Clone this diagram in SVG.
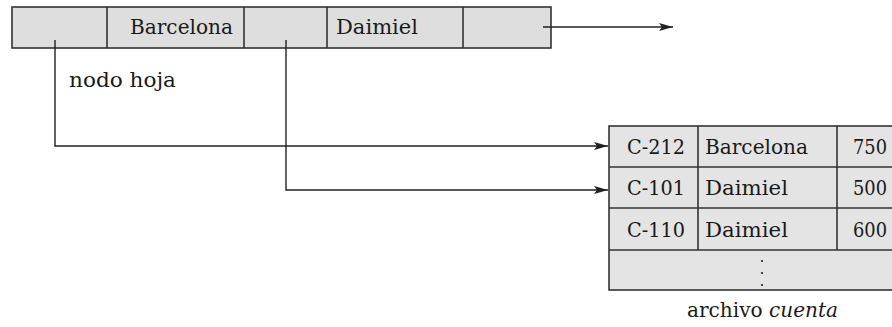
<svg xmlns="http://www.w3.org/2000/svg" width="892" height="327" viewBox="0 0 892 327">
<style>
.cell{fill:#dedede;stroke:#333;stroke-width:1.6}
.tcell{fill:#e4e4e4;stroke:#333;stroke-width:1.6}
.div{stroke:#333;stroke-width:1.6}
.t{font-family:"DejaVu Serif","Liberation Serif",serif;font-size:19.5px;fill:#1a1a1a}
.conn{fill:none;stroke:#222;stroke-width:1.4}
</style>
<defs>
<marker id="ah" markerWidth="14" markerHeight="8" refX="14" refY="4" orient="auto" markerUnits="userSpaceOnUse">
<path d="M0,0 L14,4 L0,8 L3,4 z" fill="#222"/>
</marker>
</defs>
<g id="leaf-node">
<rect class="cell" x="12" y="7" width="539" height="41"/>
<line class="div" x1="107" y1="7" x2="107" y2="48"/>
<line class="div" x1="244" y1="7" x2="244" y2="48"/>
<line class="div" x1="327" y1="7" x2="327" y2="48"/>
<line class="div" x1="463" y1="7" x2="463" y2="48"/>
<text class="t" x="130" y="34" textLength="103" lengthAdjust="spacingAndGlyphs">Barcelona</text>
<text class="t" x="336" y="34" textLength="82" lengthAdjust="spacingAndGlyphs">Daimiel</text>
</g>
<g id="label-nodo-hoja">
<text class="t" x="69" y="87" textLength="107" lengthAdjust="spacingAndGlyphs">nodo hoja</text>
</g>
<g id="file-cuenta">
<rect class="tcell" x="609" y="126" width="290" height="164"/>
<line class="div" x1="609" y1="167" x2="892" y2="167"/>
<line class="div" x1="609" y1="208" x2="892" y2="208"/>
<line class="div" x1="609" y1="250" x2="892" y2="250"/>
<line class="div" x1="698" y1="126" x2="698" y2="250"/>
<line class="div" x1="837" y1="126" x2="837" y2="250"/>
<text class="t" x="627" y="154" textLength="58" lengthAdjust="spacingAndGlyphs">C-212</text>
<text class="t" x="705" y="154" textLength="103" lengthAdjust="spacingAndGlyphs">Barcelona</text>
<text class="t" x="853" y="154" textLength="34" lengthAdjust="spacingAndGlyphs">750</text>
<text class="t" x="627" y="195" textLength="58" lengthAdjust="spacingAndGlyphs">C-101</text>
<text class="t" x="705" y="195" textLength="83" lengthAdjust="spacingAndGlyphs">Daimiel</text>
<text class="t" x="853" y="195" textLength="34" lengthAdjust="spacingAndGlyphs">500</text>
<text class="t" x="627" y="237" textLength="58" lengthAdjust="spacingAndGlyphs">C-110</text>
<text class="t" x="705" y="237" textLength="83" lengthAdjust="spacingAndGlyphs">Daimiel</text>
<text class="t" x="853" y="237" textLength="34" lengthAdjust="spacingAndGlyphs">600</text>
<circle cx="762" cy="261" r="1.1" fill="#222"/>
<circle cx="762" cy="273" r="1.1" fill="#222"/>
<circle cx="762" cy="285" r="1.1" fill="#222"/>
<text class="t" x="687" y="317" textLength="151" lengthAdjust="spacingAndGlyphs">archivo <tspan font-style="italic">cuenta</tspan></text>
</g>
<g id="connectors">
<polyline class="conn" points="55,40 55,146 608,146" marker-end="url(#ah)"/>
<polyline class="conn" points="286,40 286,190 608,190" marker-end="url(#ah)"/>
<line class="conn" x1="543" y1="27" x2="673" y2="27" marker-end="url(#ah)"/>
</g>
</svg>
